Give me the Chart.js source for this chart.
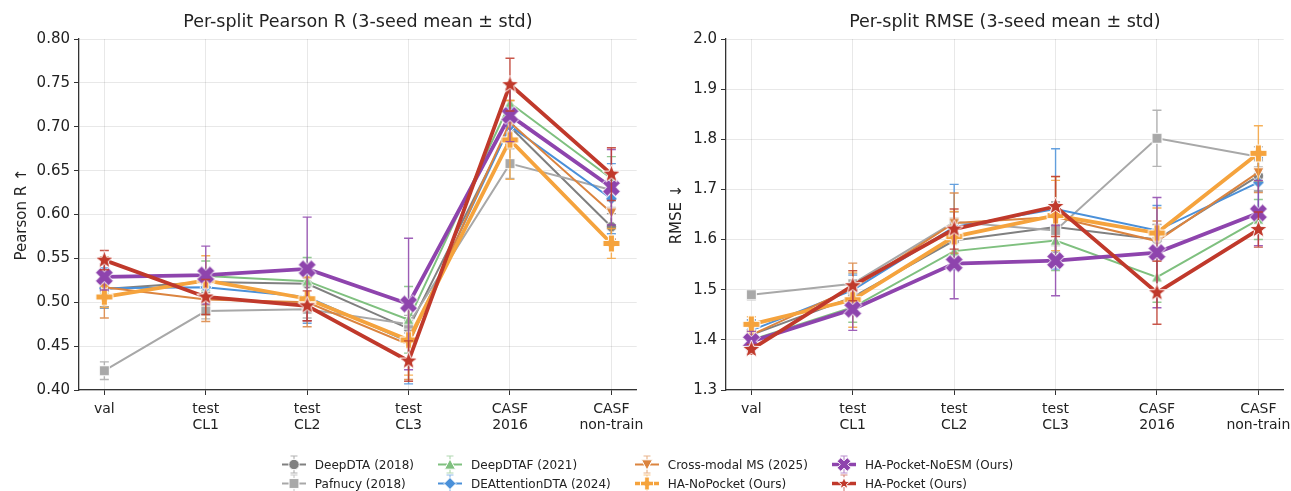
<!DOCTYPE html>
<html lang="en">
<head>
    <meta charset="UTF-8">
    <title>Per-split Pearson R / RMSE</title>
    <style>
        body {
            margin: 0;
            background: #fff;
            font-family: "DejaVu Sans", sans-serif;
        }
        #wrap {
            position: relative;
            width: 1291px;
            height: 491px;
            overflow: hidden;
        }
        #pearsonChart { position: absolute; left: 0; top: 0; }
        #rmseChart { position: absolute; left: 650px; top: 0; }
        #legend {
            position: absolute;
            top: 455px;
            left: 2px;
            width: 1291px;
            display: flex;
            justify-content: center;
        }
        .grid {
            display: grid;
            grid-template-rows: 19px 19px;
            grid-auto-flow: column;
            column-gap: 24px;
        }
        .item {
            display: flex;
            align-items: center;
            font-size: 12px;
            color: #222;
            white-space: nowrap;
        }
        .item canvas { margin-right: 9px; }
    </style>
    <script src="https://cdn.jsdelivr.net/npm/chart.js"></script>
</head>
<body>
    <div id="wrap">
        <canvas id="pearsonChart" width="651" height="445"></canvas>
        <canvas id="rmseChart" width="648" height="445"></canvas>
        <div id="legend"><div class="grid" id="legendGrid"></div></div>
    </div>

    <script>
        // categories
        const splits = ['val', ['test', 'CL1'], ['test', 'CL2'], ['test', 'CL3'], ['CASF', '2016'], ['CASF', 'non-train']];
        const pearsonTicks = [0.40, 0.45, 0.50, 0.55, 0.60, 0.65, 0.70, 0.75, 0.80];
        const rmseTicks = [1.3, 1.4, 1.5, 1.6, 1.7, 1.8, 1.9, 2.0];

        const models = ['DeepDTA (2018)', 'Pafnucy (2018)', 'DeepDTAF (2021)', 'DEAttentionDTA (2024)',
            'Cross-modal MS (2025)', 'HA-NoPocket (Ours)', 'HA-Pocket-NoESM (Ours)', 'HA-Pocket (Ours)'];

        // Pearson R, mean over 3 seeds
        const pearsonDeepDTA   = [0.515, 0.523, 0.521, 0.470, 0.700, 0.586];
        const pearsonPafnucy   = [0.422, 0.490, 0.492, 0.475, 0.658, 0.628];
        const pearsonDeepDTAF  = [0.530, 0.530, 0.524, 0.480, 0.727, 0.641];
        const pearsonDEAtt     = [0.516, 0.517, 0.506, 0.455, 0.701, 0.618];
        const pearsonCrossMS   = [0.517, 0.503, 0.500, 0.452, 0.705, 0.602];
        const pearsonNoPocket  = [0.506, 0.525, 0.504, 0.457, 0.685, 0.567];
        const pearsonNoESM     = [0.529, 0.531, 0.538, 0.498, 0.713, 0.631];
        const pearsonPocket    = [0.548, 0.506, 0.496, 0.433, 0.748, 0.646];

        // Pearson R, std
        const pearsonDeepDTAStd  = [0.020, 0.012, 0.020, 0.012, 0.020, 0.015];
        const pearsonPafnucyStd  = [0.010, 0.009, 0.010, 0.010, 0.017, 0.020];
        const pearsonDeepDTAFStd = [0.020, 0.017, 0.027, 0.038, 0.020, 0.025];
        const pearsonDEAttStd    = [0.023, 0.020, 0.030, 0.048, 0.020, 0.040];
        const pearsonCrossMSStd  = [0.035, 0.025, 0.028, 0.040, 0.025, 0.030];
        const pearsonNoPocketStd = [0.012, 0.028, 0.025, 0.040, 0.045, 0.017];
        const pearsonNoESMStd    = [0.015, 0.033, 0.059, 0.075, 0.030, 0.043];
        const pearsonPocketStd   = [0.011, 0.020, 0.017, 0.023, 0.030, 0.030];

        // RMSE, mean over 3 seeds
        const rmseDeepDTA   = [1.410, 1.485, 1.598, 1.625, 1.600, 1.727];
        const rmsePafnucy   = [1.490, 1.512, 1.635, 1.618, 1.802, 1.765];
        const rmseDeepDTAF  = [1.400, 1.465, 1.577, 1.598, 1.525, 1.640];
        const rmseDEAtt     = [1.419, 1.499, 1.625, 1.661, 1.618, 1.714];
        const rmseCrossMS   = [1.410, 1.503, 1.633, 1.645, 1.597, 1.734];
        const rmseNoPocket  = [1.431, 1.480, 1.606, 1.648, 1.613, 1.772];
        const rmseNoESM     = [1.397, 1.461, 1.552, 1.558, 1.574, 1.653];
        const rmsePocket    = [1.381, 1.508, 1.621, 1.666, 1.494, 1.620];

        // RMSE, std
        const rmseDeepDTAStd  = [0.030, 0.030, 0.030, 0.050, 0.030, 0.030];
        const rmsePafnucyStd  = [0.010, 0.020, 0.020, 0.030, 0.056, 0.020];
        const rmseDeepDTAFStd = [0.020, 0.030, 0.030, 0.060, 0.050, 0.040];
        const rmseDEAttStd    = [0.020, 0.030, 0.085, 0.120, 0.050, 0.050];
        const rmseCrossMSStd  = [0.020, 0.050, 0.060, 0.080, 0.040, 0.040];
        const rmseNoPocketStd = [0.015, 0.055, 0.050, 0.070, 0.050, 0.055];
        const rmseNoESMStd    = [0.020, 0.042, 0.070, 0.070, 0.110, 0.065];
        const rmsePocketStd   = [0.010, 0.030, 0.040, 0.060, 0.063, 0.035];

        const pearsonMeans = [pearsonDeepDTA, pearsonPafnucy, pearsonDeepDTAF, pearsonDEAtt, pearsonCrossMS, pearsonNoPocket, pearsonNoESM, pearsonPocket];
        const pearsonStds = [pearsonDeepDTAStd, pearsonPafnucyStd, pearsonDeepDTAFStd, pearsonDEAttStd, pearsonCrossMSStd, pearsonNoPocketStd, pearsonNoESMStd, pearsonPocketStd];
        const rmseMeans = [rmseDeepDTA, rmsePafnucy, rmseDeepDTAF, rmseDEAtt, rmseCrossMS, rmseNoPocket, rmseNoESM, rmsePocket];
        const rmseStds = [rmseDeepDTAStd, rmsePafnucyStd, rmseDeepDTAFStd, rmseDEAttStd, rmseCrossMSStd, rmseNoPocketStd, rmseNoESMStd, rmsePocketStd];

        // style per model
        const styles = [
            { color: '#808080', marker: 'o', size: 11, width: 2,   order: 7 },
            { color: '#a8a8a8', marker: 's', size: 11, width: 2,   order: 6 },
            { color: '#7fc07f', marker: '^', size: 11, width: 2,   order: 5 },
            { color: '#4a90d9', marker: 'D', size: 12, width: 2,   order: 4 },
            { color: '#db843f', marker: 'v', size: 11, width: 2,   order: 3 },
            { color: '#f5a33d', marker: 'P', size: 17, width: 3.8, order: 2 },
            { color: '#8e44ad', marker: 'X', size: 17, width: 3.8, order: 1 },
            { color: '#c0392b', marker: '*', size: 19, width: 3.8, order: 0 }
        ];

        function markerPath(ctx, shape, r) {
            ctx.beginPath();
            if (shape === 'o') {
                ctx.arc(0, 0, r * 0.95, 0, Math.PI * 2);
            } else if (shape === 's') {
                ctx.rect(-r * 0.9, -r * 0.9, r * 1.8, r * 1.8);
            } else if (shape === '^') {
                ctx.moveTo(0, -r); ctx.lineTo(r, r * 0.85); ctx.lineTo(-r, r * 0.85); ctx.closePath();
            } else if (shape === 'v') {
                ctx.moveTo(0, r); ctx.lineTo(r, -r * 0.85); ctx.lineTo(-r, -r * 0.85); ctx.closePath();
            } else if (shape === 'D') {
                ctx.moveTo(0, -r); ctx.lineTo(r, 0); ctx.lineTo(0, r); ctx.lineTo(-r, 0); ctx.closePath();
            } else if (shape === 'P' || shape === 'X') {
                const w = r * 0.36;
                const pts = [[-w, -r], [w, -r], [w, -w], [r, -w], [r, w], [w, w], [w, r], [-w, r], [-w, w], [-r, w], [-r, -w], [-w, -w]];
                const a = shape === 'X' ? Math.PI / 4 : 0;
                const k = shape === 'X' ? 1.1 : 1;
                pts.forEach(([px, py], i) => {
                    const x = (px * Math.cos(a) - py * Math.sin(a)) * k;
                    const y = (px * Math.sin(a) + py * Math.cos(a)) * k;
                    if (i === 0) ctx.moveTo(x, y); else ctx.lineTo(x, y);
                });
                ctx.closePath();
            } else if (shape === '*') {
                for (let i = 0; i < 10; i++) {
                    const rr = i % 2 === 0 ? r : r * 0.42;
                    const a = -Math.PI / 2 + i * Math.PI / 5;
                    if (i === 0) ctx.moveTo(rr * Math.cos(a), rr * Math.sin(a));
                    else ctx.lineTo(rr * Math.cos(a), rr * Math.sin(a));
                }
                ctx.closePath();
            }
        }

        function drawMarker(ctx, st, x, y) {
            ctx.save();
            ctx.translate(x, y);
            markerPath(ctx, st.marker, st.size / 2);
            ctx.fillStyle = st.color;
            ctx.fill();
            ctx.lineWidth = 1;
            ctx.strokeStyle = '#ffffff';
            ctx.stroke();
            ctx.restore();
        }

        function makeMarker(st) {
            const c = document.createElement('canvas');
            c.width = c.height = Math.ceil(st.size * 1.3 + 4);
            drawMarker(c.getContext('2d'), st, c.width / 2, c.height / 2);
            return c;
        }

        // error bars drawn just before each line, like matplotlib errorbar
        const errorBars = {
            id: 'errorBars',
            beforeDatasetDraw(chart, args) {
                const ds = chart.data.datasets[args.index];
                const { ctx, scales: { x, y } } = chart;
                ctx.save();
                ctx.strokeStyle = ds.borderColor;
                ctx.globalAlpha = 0.85;
                ctx.lineWidth = 1.4;
                ds.data.forEach((p, i) => {
                    const px = x.getPixelForValue(p.x);
                    const top = y.getPixelForValue(p.y + ds.std[i]);
                    const bot = y.getPixelForValue(p.y - ds.std[i]);
                    ctx.beginPath();
                    ctx.moveTo(px, top); ctx.lineTo(px, bot);
                    ctx.moveTo(px - 4.5, top); ctx.lineTo(px + 4.5, top);
                    ctx.moveTo(px - 4.5, bot); ctx.lineTo(px + 4.5, bot);
                    ctx.stroke();
                });
                ctx.restore();
            }
        };

        const gridColor = 'rgba(0, 0, 0, 0.09)';
        const axisColor = '#333333';

        function buildChart(id, title, yTitle, yTicks, means, stds, yAxisWidth, titlePad, decimals) {
            const datasets = models.map((name, k) => {
                const st = styles[k];
                return {
                    label: name,
                    data: means[k].map((v, i) => ({ x: i, y: v })),
                    std: stds[k],
                    borderColor: st.color,
                    backgroundColor: st.color,
                    borderWidth: st.width,
                    pointStyle: makeMarker(st),
                    pointRadius: st.size / 2,
                    order: st.order,
                    tension: 0,
                    fill: false
                };
            });

            return new Chart(document.getElementById(id), {
                type: 'line',
                data: { datasets },
                plugins: [errorBars],
                options: {
                    responsive: false,
                    animation: false,
                    devicePixelRatio: 1,
                    layout: { padding: { left: 0, right: 0, top: 0, bottom: 0 } },
                    plugins: {
                        legend: { display: false },
                        tooltip: { enabled: false },
                        title: {
                            display: true,
                            fullSize: false,
                            text: title,
                            color: '#222',
                            font: { family: 'DejaVu Sans', size: 17.5, weight: 'normal' },
                            padding: { top: 12, bottom: 6 }
                        }
                    },
                    scales: {
                        x: {
                            type: 'linear',
                            min: -0.25,
                            max: 5.25,
                            afterBuildTicks: s => { s.ticks = splits.map((_, i) => ({ value: i })); },
                            afterFit: s => { s.height = 55; },
                            ticks: {
                                autoSkip: false,
                                maxRotation: 0,
                                padding: 7,
                                color: '#222',
                                font: { family: 'DejaVu Sans', size: 14, lineHeight: 1.12 },
                                callback: v => splits[v]
                            },
                            grid: { color: gridColor, tickColor: axisColor, tickLength: 5 },
                            border: { color: axisColor, width: 1.3 }
                        },
                        y: {
                            min: yTicks[0],
                            max: yTicks[yTicks.length - 1],
                            afterBuildTicks: s => { s.ticks = yTicks.map(v => ({ value: v })); },
                            afterFit: s => { s.width = yAxisWidth; },
                            ticks: {
                                padding: 4,
                                color: '#222',
                                font: { family: 'DejaVu Sans', size: 15 },
                                callback: v => v.toFixed(decimals)
                            },
                            title: {
                                display: true,
                                text: yTitle,
                                color: '#222',
                                font: { family: 'DejaVu Sans', size: 15 },
                                padding: { top: titlePad, bottom: 0 }
                            },
                            grid: { color: gridColor, tickColor: axisColor, tickLength: 5 },
                            border: { color: axisColor, width: 1.3 }
                        }
                    }
                }
            });
        }

        buildChart('pearsonChart', 'Per-split Pearson R (3-seed mean ± std)', 'Pearson R ↑', pearsonTicks, pearsonMeans, pearsonStds, 79, 13, 2);
        buildChart('rmseChart', 'Per-split RMSE (3-seed mean ± std)', 'RMSE ↓', rmseTicks, rmseMeans, rmseStds, 76, 18, 1);

        // shared legend below both panels
        const grid = document.getElementById('legendGrid');
        models.forEach((name, k) => {
            const st = Object.assign({}, styles[k]);
            st.size = Math.min(st.size, 13);
            const item = document.createElement('div');
            item.className = 'item';
            const c = document.createElement('canvas');
            c.width = 24; c.height = 19;
            const ctx = c.getContext('2d');
            ctx.strokeStyle = st.color;
            ctx.lineWidth = st.width > 3 ? 3.5 : 2;
            ctx.beginPath(); ctx.moveTo(0, 9.5); ctx.lineTo(24, 9.5); ctx.stroke();
            ctx.globalAlpha = 0.6;
            ctx.lineWidth = 1.2;
            ctx.beginPath();
            ctx.moveTo(12, 1); ctx.lineTo(12, 18);
            ctx.moveTo(8.5, 1); ctx.lineTo(15.5, 1);
            ctx.moveTo(8.5, 18); ctx.lineTo(15.5, 18);
            ctx.stroke();
            ctx.globalAlpha = 1;
            drawMarker(ctx, st, 12, 9.5);
            item.appendChild(c);
            const span = document.createElement('span');
            span.textContent = name;
            item.appendChild(span);
            grid.appendChild(item);
        });
    </script>
</body>
</html>
